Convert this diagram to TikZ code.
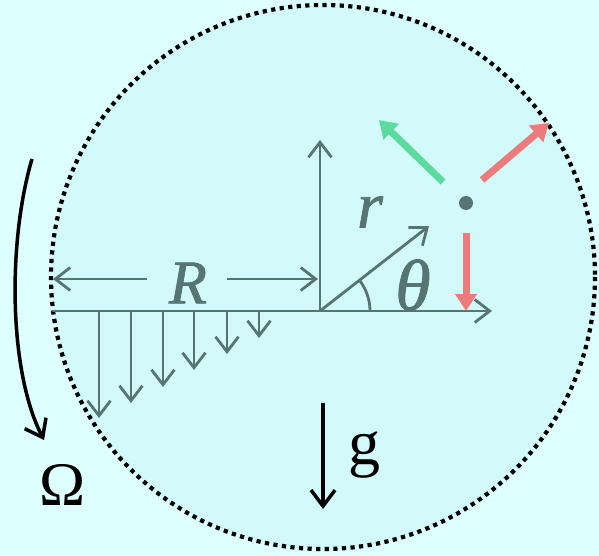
\documentclass[tikz,border=0pt]{standalone}
\usepackage{fontspec}
\setmainfont{Liberation Serif}
\usetikzlibrary{arrows.meta,calc}
\definecolor{bgout}{RGB}{222,255,255}
\definecolor{bgin}{RGB}{210,250,250}
\definecolor{axgray}{RGB}{86,116,116}
\definecolor{vred}{RGB}{236,124,124}
\definecolor{vgreen}{RGB}{92,218,160}
\tikzset{
  gline/.style={draw=axgray, line width=2.8pt},
  garrow/.style={gline, -{Straight Barb[length=15pt,width=23pt,line width=2.8pt]}},
  fatarrow/.style={line width=7pt, -{Triangle[length=17pt,width=21pt]}},
  blackarrow/.style={draw=black, line width=3.5pt, -{Straight Barb[length=16pt,width=24pt,line width=3.5pt]}},
  lbl/.style={inner sep=0pt, outer sep=0pt},
  glbl/.style={lbl, text=axgray},
}
\begin{document}
\begin{tikzpicture}[x=1pt,y=-1pt]
\fill[bgout] (0,0) rectangle (599,556);
\useasboundingbox (0,0) rectangle (599,556);
% disc
\fill[bgin] (323,277) circle[radius=272];
\draw[line width=4.2pt, dash pattern=on 4.2pt off 4.4pt] (323,277) circle[radius=272];
% axes
\coordinate (O) at (320,311);
\coordinate (xend) at (492,311);
\coordinate (yend) at (320,140);
\coordinate (lend) at (52,311);
\draw[garrow] (O) -- (xend);
\draw[garrow] (O) -- (yend);
\draw[gline] (O) -- (lend);
% R dimension
\coordinate (Ra) at (147,279);
\coordinate (Rb) at (53,279);
\coordinate (Rc) at (227,279);
\coordinate (Rd) at (318,279);
\draw[garrow] (Ra) -- (Rb);
\draw[garrow] (Rc) -- (Rd);
\node[glbl, font=\fontsize{62}{62}\selectfont\itshape\addfontfeature{FakeBold=1.2}] (R) at (188,283) {R};
% downward velocity arrows
\foreach \x/\y [count=\i] in {99/418,131/403,163/387,194/370,227/354,259/338}{
  \coordinate (s\i) at (\x,311);
  \coordinate (e\i) at (\x,\y);
  \draw[garrow, line width=2.4pt] (s\i) -- (e\i);
}
% r vector and angle
\coordinate (rend) at (429,226);
\coordinate (arcstart) at (370,311);
\draw[garrow] (O) -- (rend);
\draw[gline] (arcstart) arc[start angle=0, end angle=-38, radius=50];
\node[glbl, font=\fontsize{66}{66}\selectfont\itshape\addfontfeature{FakeBold=1.2}] (r) at (370,212) {r};
\node[glbl, font=\fontsize{72}{72}\selectfont\itshape\addfontfeature{FakeBold=1.2}] (th) at (413,285) {θ};
% particle and forces
\node[circle, fill=axgray, minimum size=14pt, inner sep=0pt] (P) at (466,203) {};
\coordinate (d1) at (466,233);
\coordinate (d2) at (466,311);
\draw[fatarrow, vred] (d1) -- (d2);
\coordinate (u1) at (482,180);
\coordinate (u2) at (549,123);
\draw[fatarrow, vred] (u1) -- (u2);
\coordinate (g1) at (443,182);
\coordinate (g2) at (379,120);
\draw[fatarrow, vgreen] (g1) -- (g2);
% rotation
\coordinate (om1) at (32,159);
\coordinate (om2) at (44,440);
\draw[blackarrow] (om1) .. controls (8,240) and (8,370) .. (om2);
\node[lbl, font=\fontsize{62}{62}\selectfont] (Om) at (63,485) {Ω};
% gravity
\coordinate (gr1) at (323,403);
\coordinate (gr2) at (323,509);
\draw[blackarrow] (gr1) -- (gr2);
\node[lbl, font=\fontsize{64}{64}\selectfont] (g) at (364,455) {g};
\end{tikzpicture}
\end{document}
